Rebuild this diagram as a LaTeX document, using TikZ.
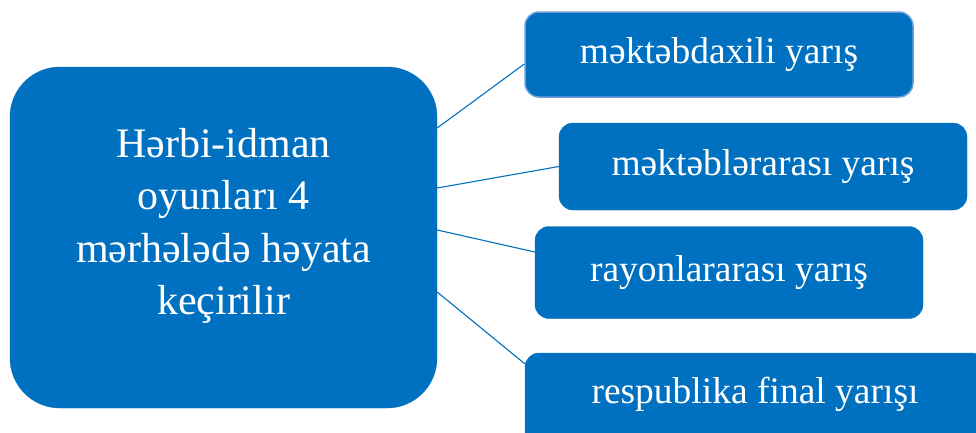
\documentclass[tikz,border=0pt]{standalone}
\usepackage{fontspec}
\setmainfont{Liberation Serif}
\usetikzlibrary{positioning}
\definecolor{boxblue}{HTML}{0070C0}
\definecolor{edgeblue}{HTML}{6A9FD8}
\tikzset{
  bigbox/.style={fill=boxblue, draw=boxblue, rounded corners=50pt, inner sep=0pt},
  stagebox/.style={fill=boxblue, draw=boxblue, rounded corners=14pt, inner sep=0pt,
    text=white, font=\fontsize{37.5}{44}\selectfont},
  maintext/.style={text=white, align=center, font=\fontsize{42}{52.3}\selectfont, inner sep=0pt},
  conn/.style={draw=boxblue, line width=1.1pt}
}
\begin{document}
\begin{tikzpicture}[x=1pt,y=-1pt]
\useasboundingbox (0,0) rectangle (976,432);
\clip (0,0) rectangle (976,432);
\fill[white] (0,0) rectangle (976,432);
% main box
\node[bigbox, minimum width=427pt, minimum height=341pt] (main) at (223.5,237.5) {};
\node[maintext] (mtext) at (223.5,226) {Hərbi-idman\\oyunları 4\\mərhələdə həyata\\keçirilir};
% stage boxes
\node[stagebox, draw=edgeblue, line width=1.5pt, minimum width=388pt, minimum height=85pt] (b1) at (719,54.5) {məktəbdaxili yarış};
\node[stagebox, minimum width=408pt, minimum height=87pt] (b2) at (763,166.5) {məktəblərarası yarış};
\node[stagebox, minimum width=388pt, minimum height=92pt] (b3) at (729,272.5) {rayonlararası yarış};
\node[stagebox, anchor=base, text height=50pt, text depth=45pt, minimum width=460pt] (b4) at (755,403) {respublika final yarışı};
% connectors
\draw[conn] ([yshift=109.5pt]main.east) -- ([yshift=-9.5pt]b1.west);
\draw[conn] ([yshift=49.5pt]main.east) -- (b2.west);
\draw[conn] ([yshift=7.5pt]main.east) -- ([yshift=20.5pt]b3.west);
\draw[conn] ([yshift=-54.5pt]main.east) -- ([yshift=-11pt]b4.north west);
\end{tikzpicture}
\end{document}
